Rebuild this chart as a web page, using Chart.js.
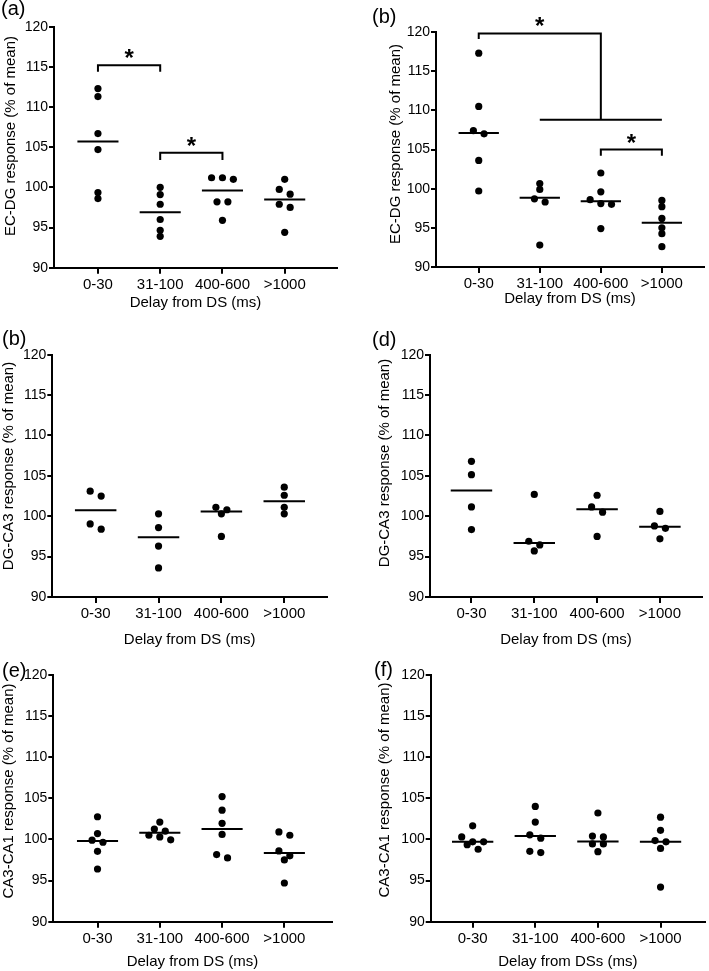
<!DOCTYPE html>
<html>
<head>
<meta charset="utf-8">
<script src="https://cdn.jsdelivr.net/npm/chart.js@4.4.0/dist/chart.umd.min.js"></script>
<style>
  html, body { margin: 0; padding: 0; background: #fff; }
  #wrap { position: relative; width: 709px; height: 971px; overflow: hidden; }
  canvas { position: absolute; }
</style>
</head>
<body>
<div id="wrap">
  <canvas id="pa"></canvas>
  <canvas id="pb"></canvas>
  <canvas id="pc"></canvas>
  <canvas id="pd"></canvas>
  <canvas id="pe"></canvas>
  <canvas id="pf"></canvas>
</div>
<script>
// delay groups and y ticks
const groups = ['0-30', '31-100', '400-600', '>1000'];
const yTicks = [90, 95, 100, 105, 110, 115, 120];

// EC-DG, first animal group (a)
const ecdgA = [
  [112.3, 111.3, 106.7, 104.7, 99.35, 98.6],
  [100.0, 99.1, 97.9, 96.0, 94.65, 93.9],
  [101.2, 101.0, 101.2, 98.2, 98.2, 95.9],
  [101.0, 99.75, 99.15, 97.9, 97.5, 94.4]
];
const ecdgAMean = [105.7, 96.9, 99.6, 98.5];

// EC-DG, second group (b)
const ecdgB = [
  [117.3, 110.5, 107.4, 107.0, 103.6, 99.7],
  [100.65, 99.9, 98.7, 98.3, 92.8],
  [102.0, 99.6, 98.6, 98.1, 98.0, 94.9],
  [98.5, 97.7, 96.2, 95.0, 94.25, 92.6]
];
const ecdgBMean = [107.1, 98.85, 98.4, 95.65];

// DG-CA3 (second "(b)" panel and d)
const dgca3C = [
  [103.1, 102.5, 99.05, 98.4],
  [100.3, 98.6, 96.3, 93.6],
  [101.1, 100.8, 100.3, 97.5],
  [103.6, 102.6, 101.1, 100.3]
];
const dgca3CMean = [100.75, 97.4, 100.6, 101.85];

const dgca3D = [
  [106.8, 105.15, 101.15, 98.35],
  [102.7, 96.9, 96.45, 95.7],
  [102.6, 101.15, 100.5, 97.5],
  [100.6, 98.8, 98.5, 97.2]
];
const dgca3DMean = [103.2, 96.7, 100.85, 98.7];

// CA3-CA1 (e, f)
const ca3ca1E = [
  [102.75, 100.7, 99.9, 99.65, 98.55, 96.4],
  [102.1, 101.25, 101.0, 100.5, 100.3, 99.95],
  [105.2, 103.55, 101.95, 100.6, 98.15, 97.75],
  [100.9, 100.5, 98.6, 98.0, 97.5, 94.7]
];
const ca3ca1EMean = [99.8, 100.8, 101.25, 98.35];

const ca3ca1F = [
  [101.65, 100.3, 99.7, 99.7, 99.35, 98.8],
  [104.0, 102.1, 100.55, 100.15, 98.55, 98.4],
  [103.2, 100.4, 100.3, 99.45, 99.45, 98.5],
  [102.7, 101.1, 99.85, 99.7, 98.9, 94.2]
];
const ca3ca1FMean = [99.7, 100.4, 99.75, 99.7];

// significance brackets (group index, value) and stars
const bracketsA = [
  [[0, 114.4], [0, 115.2], [1, 115.2], [1, 114.4]],
  [[1, 103.4], [1, 104.3], [2, 104.3], [2, 103.4]]
];
const starsA = [[0.5, 116.7], [1.5, 105.7]];

const bracketsB = [
  [[0, 119.1], [0, 119.8], [2, 119.8], [2, 108.8]],
  [[1, 108.8], [3, 108.8]],
  [[2, 104.2], [2, 105.0], [3, 105.0], [3, 104.2]]
];
const starsB = [[1, 121.3], [2.5, 106.4]];

const FONT = '"Liberation Sans", Arial, Helvetica, sans-serif';
Chart.defaults.font.family = FONT;
Chart.defaults.color = '#000';

// box: canvas left, top, w, h ; plot: x of axis, y of 120, x end, y of 90
const panels = [
  { id: 'pa', tag: '(a)', yTitle: 'EC-DG response (% of mean)', xTitle: 'Delay from DS (ms)',
    values: ecdgA, means: ecdgAMean, brackets: bracketsA, stars: starsA,
    box: [0, 0, 354, 320], plot: [54, 26.7, 337, 267.7], xr: [-0.706, 3.84],
    yTitlePos: [11, 136], tagPos: [1, 15], xTitlePad: 8 },
  { id: 'pb', tag: '(b)', yTitle: 'EC-DG response (% of mean)', xTitle: 'Delay from DS (ms)',
    values: ecdgB, means: ecdgBMean, brackets: bracketsB, stars: starsB,
    box: [354, 0, 355, 320], plot: [436, 32, 704, 267], xr: [-0.70, 3.69],
    yTitlePos: [42, 144], tagPos: [18, 23], xTitlePad: 12 },
  { id: 'pc', tag: '(b)', yTitle: 'DG-CA3 response (% of mean)', xTitle: 'Delay from DS (ms)',
    values: dgca3C, means: dgca3CMean, brackets: [], stars: [],
    box: [0, 320, 354, 330], plot: [52.3, 354.7, 327, 597], xr: [-0.69, 3.68],
    yTitlePos: [9, 146], tagPos: [2, 25], xTitlePad: 1 },
  { id: 'pd', tag: '(d)', yTitle: 'DG-CA3 response (% of mean)', xTitle: 'Delay from DS (ms)',
    values: dgca3D, means: dgca3DMean, brackets: [], stars: [],
    box: [354, 320, 355, 330], plot: [430, 354.7, 702, 597], xr: [-0.66, 3.67],
    yTitlePos: [31, 143], tagPos: [18, 26], xTitlePad: 1 },
  { id: 'pe', tag: '(e)', yTitle: 'CA3-CA1 response (% of mean)', xTitle: 'Delay from DS (ms)',
    values: ca3ca1E, means: ca3ca1EMean, brackets: [], stars: [],
    box: [0, 640, 354, 331], plot: [53.3, 674.7, 331.7, 921.7], xr: [-0.71, 3.76],
    yTitlePos: [9, 151], tagPos: [2, 37], xTitlePad: 0 },
  { id: 'pf', tag: '(f)', yTitle: 'CA3-CA1 response (% of mean)', xTitle: 'Delay from DSs (ms)',
    values: ca3ca1F, means: ca3ca1FMean, brackets: [], stars: [],
    box: [354, 640, 355, 331], plot: [430.7, 674.7, 707, 921.7], xr: [-0.67, 3.71],
    yTitlePos: [31, 150], tagPos: [20, 36], xTitlePad: 0 }
];

// spread near-equal values side by side, like a column scatter
function swarm(vals, i) {
  const step = 0.175, gap = 0.7;
  const rows = [];
  vals.slice().sort((a, b) => b - a).forEach(v => {
    const row = rows[rows.length - 1];
    if (row && row[0] - v < gap) row.push(v); else rows.push([v]);
  });
  const pts = [];
  rows.forEach(row => row.forEach((v, k) => {
    pts.push({ x: i + (k - (row.length - 1) / 2) * step, y: v });
  }));
  return pts;
}

function textPlugin(p) {
  return {
    id: 'panelText',
    afterDraw(chart) {
      const { ctx } = chart;
      const x = chart.scales.x, y = chart.scales.y;
      ctx.save();
      ctx.fillStyle = '#000';
      ctx.font = '20px ' + FONT;
      ctx.textAlign = 'left';
      ctx.textBaseline = 'alphabetic';
      ctx.fillText(p.tag, p.tagPos[0], p.tagPos[1]);
      ctx.font = '15px ' + FONT;
      ctx.translate(p.yTitlePos[0], p.yTitlePos[1]);
      ctx.rotate(-Math.PI / 2);
      ctx.textAlign = 'center';
      ctx.textBaseline = 'middle';
      ctx.fillText(p.yTitle, 0, 0);
      ctx.restore();

      ctx.save();
      ctx.fillStyle = '#000';
      ctx.font = 'bold 24px ' + FONT;
      ctx.textAlign = 'center';
      ctx.textBaseline = 'alphabetic';
      p.stars.forEach(([sx, sy]) => {
        ctx.fillText('*', x.getPixelForValue(sx), y.getPixelForValue(sy) + 0.52 * 24);
      });
      ctx.restore();
    }
  };
}

function makeChart(p) {
  const canvas = document.getElementById(p.id);
  const [left, top, w, h] = p.box;
  const [px0, py0, px1, py1] = p.plot;
  canvas.width = w;
  canvas.height = h;
  canvas.style.left = left + 'px';
  canvas.style.top = top + 'px';

  let points = [];
  p.values.forEach((vals, i) => { points = points.concat(swarm(vals, i)); });

  const meanLines = [];
  p.means.forEach((m, i) => {
    meanLines.push({ x: i - 0.33, y: m }, { x: i + 0.33, y: m }, { x: i + 0.5, y: null });
  });

  const bracketLines = [];
  p.brackets.forEach(b => {
    b.forEach(([bx, by]) => bracketLines.push({ x: bx, y: by }));
    bracketLines.push({ x: b[b.length - 1][0], y: null });
  });

  const axisGrid = {
    display: true,
    drawOnChartArea: false,
    drawTicks: true,
    tickLength: 6,
    tickWidth: 2,
    tickColor: '#000',
    color: '#000',
    lineWidth: 2
  };

  new Chart(canvas, {
    type: 'scatter',
    data: {
      datasets: [
        {
          data: points,
          pointRadius: 3.6,
          pointBackgroundColor: '#000',
          pointBorderWidth: 0
        },
        {
          type: 'line',
          data: meanLines,
          borderColor: '#000',
          borderWidth: 2,
          pointRadius: 0,
          spanGaps: false
        },
        {
          type: 'line',
          data: bracketLines,
          borderColor: '#000',
          borderWidth: 2,
          pointRadius: 0,
          spanGaps: false,
          clip: false
        }
      ]
    },
    options: {
      responsive: false,
      animation: false,
      events: [],
      layout: { padding: { left: 0, top: py0 - top, right: left + w - px1, bottom: 0 } },
      plugins: { legend: { display: false }, tooltip: { enabled: false } },
      scales: {
        x: {
          type: 'linear',
          min: p.xr[0],
          max: p.xr[1],
          afterBuildTicks: s => { s.ticks = groups.map((_, i) => ({ value: i })); },
          afterFit: s => { s.height = top + h - py1; },
          ticks: {
            callback: v => groups[Math.round(v)],
            font: { size: 15 },
            color: '#000',
            padding: 2,
            maxRotation: 0,
            autoSkip: false
          },
          grid: axisGrid,
          border: { display: true, width: 2, color: '#000' },
          title: {
            display: true,
            text: p.xTitle,
            font: { size: 15 },
            color: '#000',
            padding: { top: 0, bottom: p.xTitlePad }
          }
        },
        y: {
          min: 90,
          max: 120,
          afterBuildTicks: s => { s.ticks = yTicks.map(v => ({ value: v })); },
          afterFit: s => { s.width = px0 - left; },
          ticks: { font: { size: 14 }, color: '#000', padding: 1 },
          grid: Object.assign({}, axisGrid, { tickLength: 5 }),
          border: { display: true, width: 2, color: '#000' }
        }
      }
    },
    plugins: [textPlugin(p)]
  });
}

panels.forEach(makeChart);
</script>
</body>
</html>
